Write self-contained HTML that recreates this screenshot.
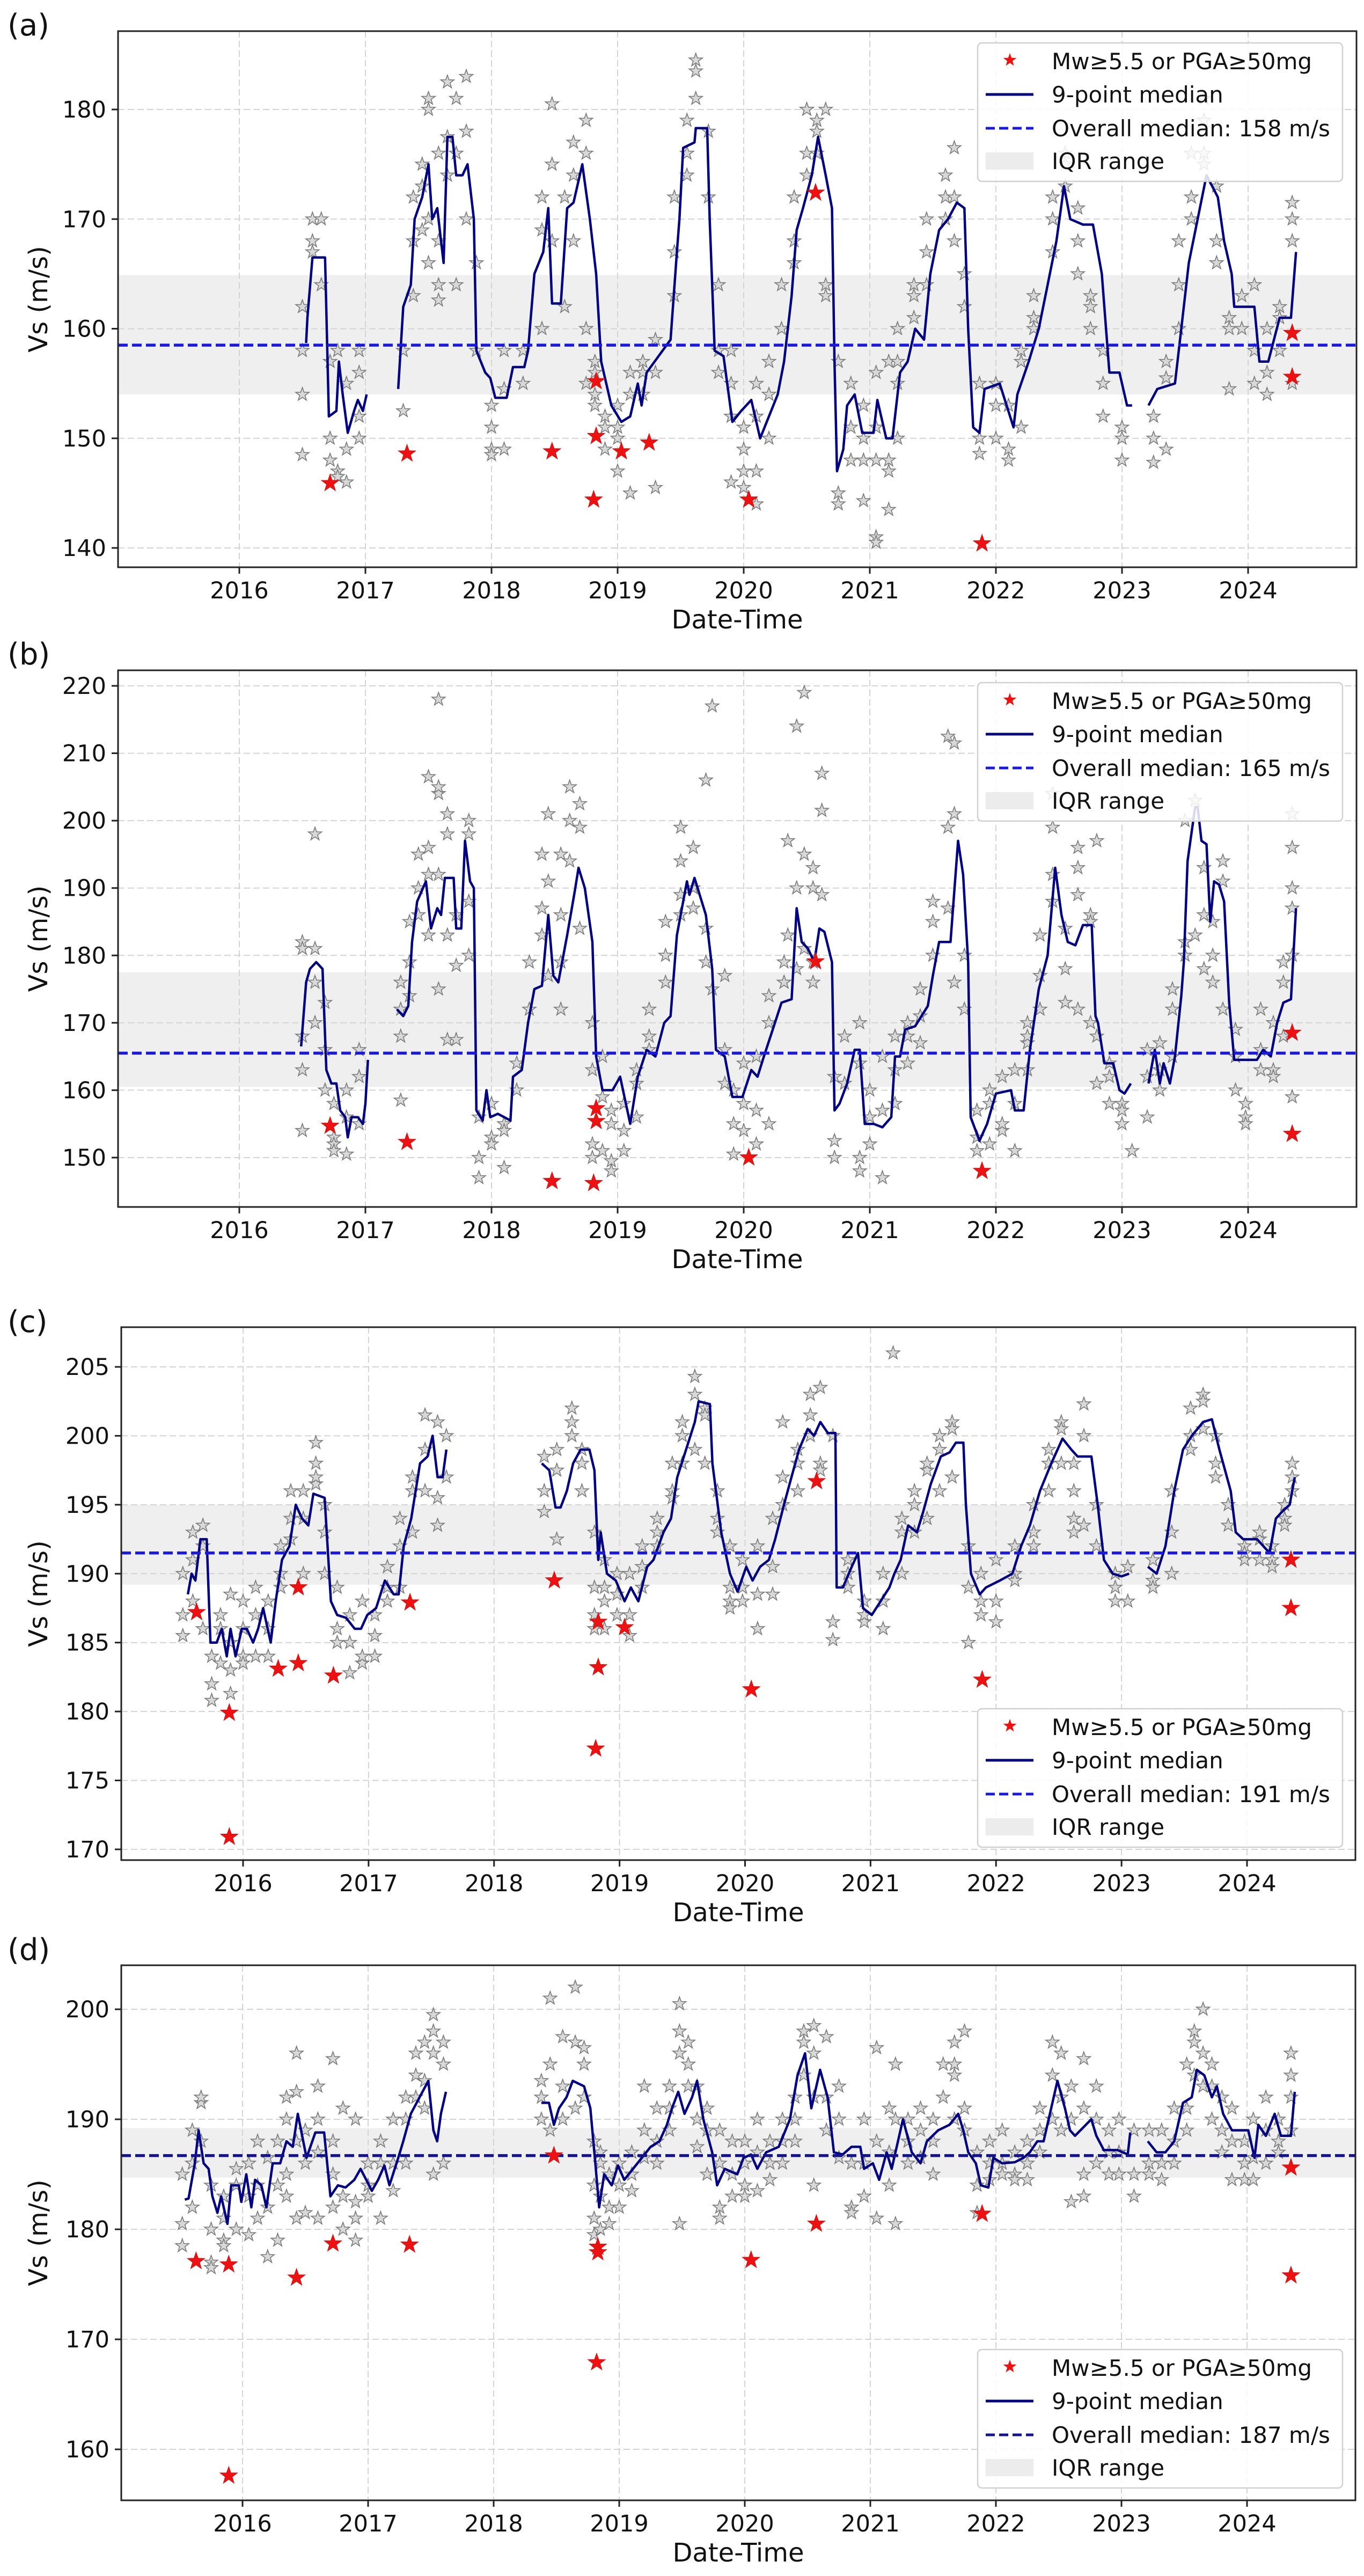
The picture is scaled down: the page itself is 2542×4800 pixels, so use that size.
<!DOCTYPE html>
<html><head><meta charset="utf-8">
<style>
html,body{margin:0;padding:0;background:#fff;}
svg{display:block;font-family:"DejaVu Sans","Liberation Sans",sans-serif;}
</style></head>
<body>
<svg id="fig" width="2542" height="4800" viewBox="0 0 2542 4800" xmlns="http://www.w3.org/2000/svg"></svg>
<script>
// ---------- shared data ----------
const xTickYears = [2016,2017,2018,2019,2020,2021,2022,2023,2024];
const xDomain = [2015.04, 2024.86];

// ---------- panel (a) ----------
const aYTicks = [140,150,160,170,180];
const aOverallMedian = 158.5;
const aIQR = [154.0, 164.9];
const aEventYears = [2016.72,2017.33,2018.48,2018.83,2018.81,2018.83,2019.03,2019.25,2020.04,2020.57,2021.89,2024.35,2024.35];
const aEventVals  = [145.9,148.6,148.8,150.2,144.4,155.2,148.8,149.6,144.4,172.4,140.4,159.6,155.6];
const aMedian = [[2016.53,158.7],[2016.54,161],[2016.58,166.5],[2016.68,166.5],[2016.71,152],[2016.77,152.5],[2016.79,157],[2016.82,154],[2016.86,150.5],[2016.91,152.5],[2016.94,153.5],[2016.98,152.5],[2017.01,154],null,
[2017.26,154.5],[2017.30,162],[2017.36,164],[2017.39,170],[2017.45,172],[2017.50,175],[2017.53,170],[2017.57,171],[2017.59,169],[2017.62,166],[2017.65,177.5],[2017.69,177.5],[2017.72,174],[2017.77,174],[2017.81,175],[2017.86,170],[2017.88,158],[2017.95,156],[2017.99,155.5],[2018.03,153.7],[2018.12,153.7],[2018.17,156.5],[2018.26,156.5],[2018.29,158],[2018.34,165],[2018.41,167],[2018.45,171],[2018.48,162.3],[2018.55,162.3],[2018.60,171],[2018.65,171.5],[2018.72,175],[2018.78,170],[2018.83,165],[2018.87,157],[2018.95,153],[2019.03,151.5],[2019.10,152],[2019.16,155],[2019.19,153],[2019.23,156],[2019.42,159],[2019.47,167],[2019.49,170],[2019.52,176.5],[2019.61,177],[2019.62,178.3],[2019.71,178.3],[2019.73,170],[2019.77,158],[2019.84,157.5],[2019.91,151.5],[2019.98,152.5],[2020.06,153.5],[2020.13,150],[2020.20,152],[2020.27,154],[2020.32,157],[2020.38,163],[2020.42,169],[2020.47,171],[2020.54,174],[2020.59,177.5],[2020.65,174],[2020.70,171],[2020.72,157],[2020.74,147],[2020.79,149],[2020.82,153],[2020.88,154],[2020.94,150.5],[2021.03,150.5],[2021.06,153.5],[2021.13,150],[2021.18,150],[2021.24,156],[2021.30,157],[2021.36,160],[2021.43,159],[2021.48,165],[2021.55,169],[2021.62,170],[2021.69,171.5],[2021.75,171],[2021.78,160],[2021.82,151],[2021.87,150.5],[2021.91,154.5],[2022.03,155],[2022.14,151],[2022.17,154],[2022.26,157],[2022.34,160],[2022.41,164],[2022.48,168],[2022.54,173],[2022.59,170],[2022.69,169.5],[2022.77,169.5],[2022.84,165],[2022.90,156],[2022.98,156],[2023.04,153],[2023.08,153],null,
[2023.21,153],[2023.28,154.5],[2023.42,155],[2023.47,160],[2023.53,166],[2023.60,170],[2023.67,174],[2023.76,172],[2023.81,168],[2023.87,165],[2023.89,162],[2024.05,162],[2024.09,157],[2024.16,157],[2024.25,161],[2024.34,161],[2024.38,167]];
const aScatter = [[2016.5,[162,158,154,148.5]],[2016.58,[168,170,167]],[2016.65,[170,164]],[2016.72,[157,150,148]],[2016.78,[147,146.5,158]],[2016.85,[146,149,155]],[2016.95,[158,156,150,152]],[2017.3,[152.5,158]],[2017.38,[163,168,172]],[2017.45,[175,173,169]],[2017.5,[180,181,170,166]],[2017.58,[176,168,164,162.6]],[2017.65,[177.5,182.5,174]],[2017.72,[181,176,164]],[2017.8,[183,178,170]],[2017.88,[166,158]],[2018.0,[151,153,149,148.5]],[2018.1,[154.5,158,149]],[2018.25,[155,158]],[2018.4,[172,169,160]],[2018.48,[180.5,175,168]],[2018.58,[172,162]],[2018.65,[177,174,168]],[2018.75,[179,176,160,155]],[2018.82,[157,153,156,154]],[2018.9,[152,149,151]],[2019.0,[153,151,150,147]],[2019.1,[156,154,145]],[2019.2,[157,156,154]],[2019.3,[159,156,145.5]],[2019.45,[163,167,172]],[2019.55,[176,179,174]],[2019.62,[181,183.5,184.5]],[2019.72,[178,172]],[2019.8,[158,156,164]],[2019.9,[152,155,158,146]],[2020.0,[151,149,147,145.5]],[2020.1,[155,152,147,144]],[2020.2,[157,150,154]],[2020.3,[160,164]],[2020.4,[166,172,168]],[2020.5,[174,176,180,180]],[2020.58,[179,178,176]],[2020.65,[164,163,180]],[2020.75,[157,145,144]],[2020.85,[155,151,148]],[2020.95,[153,150,148,144.3]],[2021.05,[151,148,156,141,140.5]],[2021.15,[157,147,148,143.5]],[2021.22,[160,157,155,150]],[2021.35,[161,163,164]],[2021.45,[167,164,170]],[2021.6,[172,170,174]],[2021.67,[176.5,172,168]],[2021.75,[165,162]],[2021.87,[155,148.6,150]],[2022.0,[153,150,155]],[2022.1,[149,153,148]],[2022.2,[157,151,158]],[2022.3,[161,163,160]],[2022.45,[167,170,172]],[2022.55,[176,175,173]],[2022.65,[171,168,165]],[2022.75,[162,163,160]],[2022.85,[158,155,152]],[2023.0,[151,148,150]],[2023.25,[150,152,147.8]],[2023.35,[149,155.5,157]],[2023.45,[160,164,168]],[2023.55,[172,170,176]],[2023.65,[181,179,175,176]],[2023.75,[173,168,166]],[2023.85,[161,160,154.5]],[2023.95,[163,160]],[2024.05,[164,158,155]],[2024.15,[160,156,154]],[2024.25,[158,161,162]],[2024.35,[170,171.5,168,155]]];

// ---------- panel (b) ----------
const bYTicks = [150,160,170,180,190,200,210,220];
const bOverallMedian = 165.5;
const bIQR = [160.5, 177.5];
const bEventYears = [2016.72,2017.33,2018.48,2018.81,2018.83,2018.83,2020.04,2020.57,2021.89,2024.35,2024.35];
const bEventVals  = [154.7,152.3,146.5,146.2,157.3,155.4,150,179.1,148,168.5,153.5];
const bMedian = [[2016.49,166.5],[2016.53,176],[2016.56,178],[2016.61,179],[2016.66,178],[2016.69,163],[2016.73,161],[2016.77,161],[2016.80,157],[2016.84,156],[2016.86,153],[2016.89,156],[2016.94,156],[2016.98,155],[2017.00,158],[2017.02,164.5],null,
[2017.25,172],[2017.30,171],[2017.34,172.5],[2017.37,182],[2017.41,188],[2017.48,191],[2017.52,184],[2017.57,187],[2017.60,186],[2017.63,191.5],[2017.70,191.5],[2017.72,184],[2017.76,184],[2017.79,197],[2017.83,191],[2017.86,190],[2017.88,157],[2017.93,155.5],[2017.96,160],[2017.99,156],[2018.05,156.5],[2018.15,155.5],[2018.17,162],[2018.24,163],[2018.29,170],[2018.34,175],[2018.40,175.5],[2018.45,186],[2018.49,177],[2018.53,176],[2018.60,183],[2018.66,189.5],[2018.69,193],[2018.74,190],[2018.80,182],[2018.83,165],[2018.88,160],[2018.96,160],[2019.02,162],[2019.10,155],[2019.16,162],[2019.23,166],[2019.30,165],[2019.37,170],[2019.42,171],[2019.47,183],[2019.50,186],[2019.55,191],[2019.57,189],[2019.61,191.5],[2019.70,186],[2019.75,178],[2019.78,166],[2019.85,165],[2019.91,159],[2019.99,159],[2020.06,163],[2020.11,162],[2020.16,165],[2020.23,169],[2020.30,173],[2020.38,173.5],[2020.42,187],[2020.46,182],[2020.51,181],[2020.56,179],[2020.60,184],[2020.64,183.5],[2020.70,179],[2020.72,157],[2020.76,158],[2020.82,161],[2020.88,166],[2020.92,166],[2020.96,155],[2021.03,155],[2021.10,154.5],[2021.17,156],[2021.20,165],[2021.24,165],[2021.28,169],[2021.36,169.5],[2021.46,172.5],[2021.50,177],[2021.55,182],[2021.64,182],[2021.70,197],[2021.74,192],[2021.78,179],[2021.80,156],[2021.87,152.5],[2021.93,155],[2022.00,159.5],[2022.12,160],[2022.15,157],[2022.22,157],[2022.27,166],[2022.34,175],[2022.41,180],[2022.47,193],[2022.52,186],[2022.57,182],[2022.63,181.5],[2022.69,184.5],[2022.76,184.5],[2022.79,171],[2022.81,170],[2022.86,164],[2022.93,164],[2022.98,160],[2023.02,159.5],[2023.07,161],null,
[2023.21,161],[2023.26,166],[2023.30,161],[2023.33,164],[2023.38,161],[2023.42,165],[2023.47,174],[2023.49,179],[2023.52,194],[2023.58,202],[2023.60,202],[2023.63,197],[2023.67,196.5],[2023.70,185],[2023.73,191],[2023.77,190.5],[2023.81,188],[2023.85,173],[2023.89,164.5],[2024.07,164.5],[2024.12,166],[2024.18,165],[2024.23,170],[2024.28,173],[2024.34,173.5],[2024.38,187]];
const bScatter = [[2016.5,[182,181,168,154,163]],[2016.6,[181,176,170,198]],[2016.68,[173,166,160]],[2016.75,[158,153,152,151]],[2016.85,[150.5,156,160]],[2016.95,[162,166,155]],[2017.28,[176,172,168,158.5]],[2017.35,[185,179,174]],[2017.42,[195,190,186]],[2017.5,[196,192,206.5,183]],[2017.58,[204,205,218,192,175]],[2017.65,[198,201,183,167.5]],[2017.72,[178.5,167.5,186]],[2017.82,[200,198,188,180]],[2017.9,[156,150,147]],[2018.0,[158,153,152]],[2018.1,[148.5,155,154]],[2018.2,[164,160]],[2018.3,[179,172]],[2018.4,[183,195,187]],[2018.45,[201,191,177]],[2018.55,[195,186,179,172]],[2018.62,[205,194,200]],[2018.7,[202.5,199,184]],[2018.8,[170,163,150,152]],[2018.88,[165,159,151]],[2018.95,[157,155,149.5,148]],[2019.05,[158,154,151]],[2019.15,[163,161,156]],[2019.25,[168,172,166]],[2019.38,[176,185,180]],[2019.5,[194,189,199,186]],[2019.6,[196,190,187]],[2019.7,[206,184,179]],[2019.75,[217,175]],[2019.85,[177,166,161]],[2019.92,[155,150.5,160]],[2020.0,[164,158,154]],[2020.1,[157,152,165]],[2020.2,[170,174,155]],[2020.32,[176,179,176]],[2020.35,[197,183]],[2020.42,[214,190,178]],[2020.48,[219,195,181]],[2020.55,[193,190,179,176]],[2020.62,[189,201.5,207]],[2020.72,[152.5,150,162]],[2020.8,[161,168]],[2020.92,[170,164,148,150]],[2021.0,[160,156,152]],[2021.1,[165,157,147]],[2021.2,[168,163,158]],[2021.3,[170,168,164]],[2021.4,[175,171,167]],[2021.5,[185,188,180]],[2021.62,[199,212.5,187]],[2021.67,[211.5,201,176]],[2021.75,[180,172]],[2021.85,[157,153,151]],[2021.95,[158,152,160]],[2022.05,[162,154,155]],[2022.15,[163,158,151]],[2022.25,[170,167,168,163]],[2022.35,[183,177,172]],[2022.45,[188,192,204,199]],[2022.55,[184,178,173]],[2022.65,[189,193,196,172]],[2022.75,[186,185,170]],[2022.8,[197,168,161]],[2022.9,[158,164,162]],[2023.0,[158,155,157]],[2023.08,[151]],[2023.2,[162,156,166]],[2023.3,[167,163,160]],[2023.4,[175,172,165]],[2023.5,[182,180,200]],[2023.58,[207,203,183]],[2023.65,[193,186,178]],[2023.72,[180,176,185]],[2023.8,[194,191,172]],[2023.9,[169,165,160]],[2023.98,[158,156,155]],[2024.1,[172,166,163]],[2024.2,[163,170,162]],[2024.28,[179,176,168]],[2024.35,[201,196,190,187,180,159]]];

// ---------- panel (c) ----------
const cYTicks = [170,175,180,185,190,195,200,205];
const cOverallMedian = 191.5;
const cIQR = [189.2, 195.0];
const cEventYears = [2015.63,2015.89,2015.89,2016.28,2016.44,2016.44,2016.72,2017.33,2018.48,2018.83,2018.83,2018.81,2019.04,2020.05,2020.57,2021.89,2024.35,2024.35];
const cEventVals  = [187.2,179.9,170.9,183.1,183.5,189,182.6,187.9,189.5,186.5,183.2,177.3,186.1,181.6,196.7,182.3,191,187.5];
const cMedian = [[2015.56,188.5],[2015.59,190],[2015.62,189.5],[2015.66,192.5],[2015.71,192.5],[2015.74,185],[2015.79,185],[2015.83,186],[2015.87,184],[2015.90,186],[2015.94,184],[2015.99,186],[2016.03,186],[2016.08,185],[2016.12,186],[2016.16,187.5],[2016.22,185],[2016.26,188],[2016.31,191],[2016.37,192],[2016.42,195],[2016.47,194],[2016.52,193.5],[2016.56,195.8],[2016.65,195.5],[2016.70,188],[2016.75,187],[2016.82,186.8],[2016.89,186],[2016.94,186],[2016.99,187],[2017.06,187.5],[2017.13,189.5],[2017.20,188.5],[2017.24,188.5],[2017.28,192],[2017.34,194],[2017.41,198],[2017.47,198.5],[2017.51,200],[2017.55,197],[2017.59,197],[2017.62,199],null,
[2018.38,198],[2018.44,197.5],[2018.49,194.8],[2018.53,194.8],[2018.58,196],[2018.63,198],[2018.69,199],[2018.76,199],[2018.80,197.5],[2018.83,191],[2018.85,193],[2018.90,190],[2018.97,189.5],[2019.04,188],[2019.09,189],[2019.15,188],[2019.22,190.5],[2019.27,191],[2019.35,193],[2019.41,194],[2019.46,197],[2019.53,199],[2019.60,201],[2019.63,202.5],[2019.72,202.3],[2019.74,198],[2019.81,193],[2019.88,190],[2019.94,188.7],[2020.01,190.5],[2020.06,189.5],[2020.12,190.5],[2020.19,191],[2020.24,192.5],[2020.31,195],[2020.37,197],[2020.43,199],[2020.50,200.5],[2020.55,200],[2020.60,201],[2020.66,200.2],[2020.72,200.2],[2020.73,189],[2020.78,189],[2020.85,190.5],[2020.90,191.5],[2020.94,187.5],[2021.01,187],[2021.08,188],[2021.15,189],[2021.19,190],[2021.24,191],[2021.30,193.5],[2021.37,193],[2021.42,194.5],[2021.48,196.5],[2021.56,198.5],[2021.63,198.8],[2021.68,199.5],[2021.74,199.5],[2021.76,195],[2021.80,190],[2021.87,188.5],[2021.92,189],[2022.03,189.5],[2022.13,190],[2022.20,192],[2022.27,193.5],[2022.35,196],[2022.44,198],[2022.53,199.8],[2022.60,199],[2022.65,198.5],[2022.76,198.5],[2022.81,195],[2022.86,191],[2022.93,190],[2023.00,189.8],[2023.06,190],null,
[2023.21,190.5],[2023.28,190],[2023.35,192],[2023.42,196],[2023.49,199],[2023.56,200],[2023.65,201],[2023.72,201.2],[2023.78,199],[2023.87,196],[2023.91,193],[2023.97,192.5],[2024.08,192.5],[2024.18,191.5],[2024.23,194],[2024.28,194.5],[2024.34,195],[2024.38,197]];
const cScatter = [[2015.52,[185.5,187,190]],[2015.6,[191,193,188]],[2015.68,[193.5,192,186]],[2015.75,[182,180.8,184]],[2015.82,[187,186,183.5]],[2015.9,[181.3,183,185,188.5]],[2016.0,[186,188,184,183.5]],[2016.1,[187,189,184]],[2016.2,[188,186,184]],[2016.3,[190,192,189]],[2016.38,[194,196,192.5]],[2016.48,[196,194,190]],[2016.58,[199.5,198,196.5,197]],[2016.65,[195,193,190]],[2016.75,[189,186,185]],[2016.85,[187,185,182.8]],[2016.95,[188,183.5,184]],[2017.05,[185.5,184,187]],[2017.15,[189,190.5,188]],[2017.25,[192,189,194]],[2017.35,[196,197,193]],[2017.45,[199,201.5,196]],[2017.55,[201,195.5,193.5]],[2017.62,[200,197]],[2018.4,[194.5,196,198.5]],[2018.5,[199,197.5,192.5]],[2018.62,[200,201,202]],[2018.7,[199,198,196]],[2018.8,[193,189,187,186]],[2018.88,[191,189,186,188]],[2018.98,[190,187,188.5]],[2019.08,[185.5,187,190]],[2019.18,[192,190.5,189]],[2019.3,[194,192,193]],[2019.42,[196,198,195.5]],[2019.5,[200,201,198]],[2019.6,[203,204.3,199]],[2019.68,[202,201.5,198]],[2019.78,[196,193,194]],[2019.88,[192,189,188,187.5]],[2019.98,[191,189,188]],[2020.1,[192,186,188.5]],[2020.22,[194,190.5,188.5]],[2020.3,[197,195,201]],[2020.42,[199,198,196]],[2020.52,[201.5,203,200]],[2020.6,[203.5,198,197.5]],[2020.7,[200,185.2,186.5]],[2020.82,[191,190,189]],[2020.95,[188,186.5,187]],[2021.1,[190,188,186]],[2021.18,[206]],[2021.25,[194,193,190]],[2021.35,[196,195,193]],[2021.45,[197.5,198,194]],[2021.55,[200,199,196]],[2021.65,[201,200.5,197]],[2021.78,[192,189,185]],[2021.88,[188,187,190]],[2022.0,[191,188,186.5]],[2022.15,[192,190,189.5]],[2022.3,[195,193,192]],[2022.42,[198,199,196]],[2022.52,[201,200.5,198]],[2022.62,[198,196,194,193]],[2022.7,[202.3,200,193.5]],[2022.8,[195,192]],[2022.95,[190,189,188]],[2023.05,[188,190.5]],[2023.25,[191,189.5,189]],[2023.4,[196,193,190]],[2023.55,[200,202,199]],[2023.65,[203,202.5,200.5]],[2023.75,[200,198,197]],[2023.85,[195,193.5]],[2023.98,[192,191,191.5]],[2024.1,[192.5,193,191]],[2024.2,[191,190.5,192]],[2024.3,[195,194,193.5]],[2024.36,[198,197,196]]];

// ---------- panel (d) ----------
const dYTicks = [160,170,180,190,200];
const dOverallMedian = 186.7;
const dIQR = [184.7, 189.2];
const dEventYears = [2015.63,2015.89,2015.89,2016.43,2016.72,2017.33,2018.48,2018.83,2018.83,2018.82,2020.05,2020.57,2021.89,2024.35,2024.35];
const dEventVals  = [177.1,176.8,157.6,175.6,178.7,178.6,186.7,178.4,177.9,167.9,177.2,180.5,181.4,185.6,175.8];
const dMedian = [[2015.54,182.7],[2015.57,182.8],[2015.62,186],[2015.65,189],[2015.69,186],[2015.73,185.5],[2015.76,183],[2015.80,181.5],[2015.83,183],[2015.85,182],[2015.88,180.5],[2015.91,184],[2015.97,184],[2015.99,182.5],[2016.03,185],[2016.07,182],[2016.10,184.5],[2016.15,184],[2016.19,182],[2016.24,186],[2016.30,186],[2016.35,188],[2016.40,187.5],[2016.44,190.5],[2016.51,186.5],[2016.58,188.8],[2016.65,188.8],[2016.70,183],[2016.76,184],[2016.82,183.8],[2016.89,184.5],[2016.94,185.5],[2017.03,183.5],[2017.08,184.5],[2017.13,185.8],[2017.17,184],[2017.24,186.5],[2017.28,188],[2017.34,190.5],[2017.41,192],[2017.48,193.5],[2017.52,189],[2017.55,188],[2017.58,190.5],[2017.62,192.5],null,
[2018.38,191.5],[2018.44,191.5],[2018.48,189.5],[2018.52,191],[2018.58,192],[2018.63,193.5],[2018.72,193],[2018.77,191],[2018.81,186],[2018.84,182],[2018.88,185],[2018.94,184],[2018.99,185.8],[2019.04,184.5],[2019.11,185.5],[2019.18,186.5],[2019.25,187.5],[2019.32,188],[2019.38,189.5],[2019.42,191],[2019.47,192.5],[2019.52,190.5],[2019.58,192],[2019.62,193.5],[2019.67,190],[2019.74,187],[2019.78,184],[2019.84,185.5],[2019.94,185],[2019.99,186.5],[2020.05,186.8],[2020.10,185.5],[2020.17,187],[2020.27,187.5],[2020.36,190],[2020.42,194],[2020.48,196],[2020.53,191],[2020.60,194.5],[2020.66,192],[2020.71,187],[2020.78,186.8],[2020.85,187.5],[2020.92,187.5],[2020.95,185.5],[2021.02,186],[2021.07,184.5],[2021.13,187],[2021.17,185.5],[2021.26,190],[2021.33,187],[2021.40,186],[2021.45,188],[2021.54,189],[2021.63,189.5],[2021.70,190.5],[2021.74,189],[2021.78,187],[2021.84,186],[2021.88,184],[2021.94,183.8],[2021.98,186.5],[2022.05,186],[2022.15,186.1],[2022.22,186.5],[2022.27,187],[2022.33,188],[2022.38,188],[2022.41,189.5],[2022.44,191],[2022.49,193.5],[2022.55,191],[2022.59,189],[2022.63,188.5],[2022.76,190],[2022.80,188.5],[2022.86,187.2],[2022.97,187.2],[2023.05,186.8],[2023.07,188.8],null,
[2023.21,188],[2023.28,187],[2023.35,187],[2023.42,188],[2023.49,191.5],[2023.56,192],[2023.60,194.5],[2023.66,194],[2023.72,192],[2023.76,193],[2023.81,190.5],[2023.88,189],[2024.01,189],[2024.06,186.5],[2024.09,189.5],[2024.15,188.5],[2024.22,190.5],[2024.27,188.5],[2024.35,188.5],[2024.38,192.5]];
const dScatter = [[2015.52,[180.5,178.5,185]],[2015.6,[186,189,182]],[2015.67,[191.5,192,188]],[2015.75,[180,177,176.5,184]],[2015.85,[179,181,183,178.5]],[2015.95,[184,185.5,180]],[2016.05,[186,183,179.5]],[2016.12,[188,181,184]],[2016.2,[186.5,182,177.5]],[2016.28,[188,184,179]],[2016.35,[190,192,185,183]],[2016.43,[196,192.5,188,181]],[2016.5,[189,186,181.5]],[2016.6,[193,190,187,181]],[2016.72,[195.5,188,185,182]],[2016.8,[191,180,183]],[2016.9,[190,182.5,181,179]],[2017.0,[186,184,183]],[2017.1,[186,181,188]],[2017.2,[190,186,183.5]],[2017.3,[192,190,186]],[2017.38,[194,192,196]],[2017.45,[197,193.5,191]],[2017.52,[199.5,198,196,185]],[2017.6,[197,195,186]],[2018.38,[192,190,193.5]],[2018.45,[201,195,189]],[2018.55,[197.5,193,190]],[2018.65,[202,197,191]],[2018.72,[196.5,195,192]],[2018.8,[188,184,181,179.5]],[2018.85,[186,183,180,187]],[2018.92,[185,182,180.5]],[2019.0,[186,184,182]],[2019.1,[187,185,183.5]],[2019.2,[193,189,186.5]],[2019.3,[191,188,186]],[2019.4,[193,191,189]],[2019.48,[196,198,200.5,180.5]],[2019.55,[197,195,193]],[2019.62,[193,190,187.5]],[2019.7,[191,189,185]],[2019.8,[189,186,181,182]],[2019.9,[188,185,183]],[2020.0,[188,186,184,183]],[2020.1,[190,187,183.5]],[2020.2,[188,186,184.5]],[2020.3,[190,188,186]],[2020.4,[192,190,188]],[2020.47,[197,198,194]],[2020.55,[198.5,196,192,184]],[2020.65,[197.5,192,189]],[2020.75,[193,190,186.5]],[2020.85,[186,182,181.5]],[2020.95,[190,186,183]],[2021.05,[196.5,188,181]],[2021.15,[191,187,184]],[2021.2,[195,190,180.5]],[2021.3,[190,188,186]],[2021.4,[191,189,186.5]],[2021.5,[190,188,185]],[2021.58,[195,192]],[2021.67,[197,194,195,190]],[2021.75,[198,191,189]],[2021.85,[187,184,181.5]],[2021.95,[188,186,184.5]],[2022.05,[189,186,185]],[2022.15,[187,185,184.5]],[2022.25,[188,186,184.5]],[2022.35,[191,189,187]],[2022.45,[197,194,190]],[2022.52,[196,192,189]],[2022.6,[193,190,182.5]],[2022.7,[195.5,191,183,185]],[2022.8,[193,190,186]],[2022.9,[189,187,185]],[2022.98,[190,187,185]],[2023.1,[189,185,183]],[2023.22,[189,186,185]],[2023.32,[189,186,184.5]],[2023.42,[191,188,186]],[2023.52,[195,191,189]],[2023.58,[198,197,194]],[2023.65,[200,196,193]],[2023.72,[195,193,190]],[2023.8,[192,189,187]],[2023.88,[191,188,184.5]],[2023.98,[188,186,184.5]],[2024.05,[190,186.5,184.5]],[2024.15,[192,189,186]],[2024.25,[190,188,187]],[2024.35,[196,194,192,189]]];

// ---------- rendering ----------
const NS = "http://www.w3.org/2000/svg";
const fig = document.getElementById('fig');
function el(tag, attrs, parent){
  const e = document.createElementNS(NS, tag);
  for (const k in attrs) e.setAttribute(k, attrs[k]);
  (parent||fig).appendChild(e);
  return e;
}
function starPath(cx, cy, r){
  let d = '';
  for (let i=0;i<10;i++){
    const rr = i%2===0 ? r : r*0.4;
    const a = -Math.PI/2 + i*Math.PI/5;
    d += (i===0?'M':'L') + (cx+rr*Math.cos(a)).toFixed(1) + ',' + (cy+rr*Math.sin(a)).toFixed(1);
  }
  return d+'Z';
}

const panels = [
  {id:'a', label:'(a)', lx:14, ly:66, left:220, right:2528, top:58, bottom:1057, x2016:446, x2024:2326, yA:180, pA:204, yB:140, pB:1021,
   ticks:aYTicks, med:aMedian, sc:aScatter, ey:aEventYears, ev:aEventVals, om:aOverallMedian, iqr:aIQR, omColor:'#1a1adf', legendTop:80, medLabel:'Overall median: 158 m/s'},
  {id:'b', label:'(b)', lx:14, ly:1238, left:220, right:2528, top:1249, bottom:2249, x2016:446, x2024:2326, yA:220, pA:1278, yB:150, pB:2157,
   ticks:bYTicks, med:bMedian, sc:bScatter, ey:bEventYears, ev:bEventVals, om:bOverallMedian, iqr:bIQR, omColor:'#1a1adf', legendTop:1272, medLabel:'Overall median: 165 m/s'},
  {id:'c', label:'(c)', lx:14, ly:2482, left:226, right:2526, top:2473, bottom:3466, x2016:453, x2024:2324, yA:205, pA:2547, yB:170, pB:3446,
   ticks:cYTicks, med:cMedian, sc:cScatter, ey:cEventYears, ev:cEventVals, om:cOverallMedian, iqr:cIQR, omColor:'#1a1adf', legendTop:3184, medLabel:'Overall median: 191 m/s'},
  {id:'d', label:'(d)', lx:14, ly:3652, left:226, right:2526, top:3662, bottom:4659, x2016:452, x2024:2324, yA:200, pA:3744, yB:160, pB:4564,
   ticks:dYTicks, med:dMedian, sc:dScatter, ey:dEventYears, ev:dEventVals, om:dOverallMedian, iqr:dIQR, omColor:'#14148a', legendTop:4378, medLabel:'Overall median: 187 m/s'}
];

panels.forEach(P => {
  const g = el('g', {});
  
  
  const xs = v => P.x2016 + (v-2016)*(P.x2024-P.x2016)/8;
  const ys = v => P.pA + (v-P.yA)*(P.pB-P.pA)/(P.yB-P.yA);
  const clipId = 'clip-' + P.id;
  const cp = el('clipPath', {id:clipId}, g);
  el('rect', {x:P.left, y:P.top, width:P.right-P.left, height:P.bottom-P.top}, cp);

  const lab = el('text', {x:P.lx, y:P.ly, 'font-size':56, fill:'#111'}, g);
  lab.textContent = P.label;
  
  

  const plot = el('g', {'clip-path':'url(#'+clipId+')'}, g);
  // IQR band
  const band = el('rect', {x:P.left, y:ys(P.iqr[1]), width:P.right-P.left, height:ys(P.iqr[0])-ys(P.iqr[1]), fill:'#efefef'}, plot);
  
  
  // grid
  xTickYears.forEach(yr => {
    el('line', {x1:xs(yr), x2:xs(yr), y1:P.top, y2:P.bottom, stroke:'#d4d4d4', 'stroke-width':2, 'stroke-dasharray':'12,6'}, plot);
  });
  P.ticks.forEach(t => {
    el('line', {x1:P.left, x2:P.right, y1:ys(t), y2:ys(t), stroke:'#d4d4d4', 'stroke-width':2, 'stroke-dasharray':'12,6'}, plot);
  });
  // scatter
  const sg = el('g', {}, plot);
  
  
  P.sc.forEach(grp => {
    grp[1].forEach(v => {
      const s = el('path', {d:starPath(xs(grp[0]), ys(v), 13), fill:'#d8d8d8', stroke:'#7a7a7a', 'stroke-width':1.6}, sg);
      
      
    });
  });
  // median line
  let d = '', pen = false;
  P.med.forEach(pt => {
    if (!pt){ pen = false; return; }
    d += (pen ? 'L' : 'M') + xs(pt[0]).toFixed(1) + ',' + ys(pt[1]).toFixed(1);
    pen = true;
  });
  const ml = el('path', {d:d, fill:'none', stroke:'#000080', 'stroke-width':4.5, 'stroke-linejoin':'round'}, plot);
  
  
  // overall median
  const om = el('line', {x1:P.left, x2:P.right, y1:ys(P.om), y2:ys(P.om), stroke:P.omColor, 'stroke-width':5.5, 'stroke-dasharray':'18,8'}, plot);
  
  
  // events
  const eg = el('g', {}, plot);
  
  
  P.ey.forEach((yr, i) => {
    const s = el('path', {d:starPath(xs(yr), ys(P.ev[i]), 17), fill:'#ee1111', stroke:'#cc1111', 'stroke-width':1}, eg);
    
    
  });

  // frame
  const fr = el('rect', {x:P.left, y:P.top, width:P.right-P.left, height:P.bottom-P.top, fill:'none', stroke:'#222', 'stroke-width':3}, g);
  
  

  // x ticks
  xTickYears.forEach(yr => {
    el('line', {x1:xs(yr), x2:xs(yr), y1:P.bottom, y2:P.bottom+12, stroke:'#222', 'stroke-width':3}, g);
    const t = el('text', {x:xs(yr), y:P.bottom+58, 'font-size':43, 'text-anchor':'middle', fill:'#111'}, g);
    t.textContent = yr;
    
    
  });
  P.ticks.forEach(v => {
    el('line', {x1:P.left-12, x2:P.left, y1:ys(v), y2:ys(v), stroke:'#222', 'stroke-width':3}, g);
    const t = el('text', {x:P.left-22, y:ys(v)+15, 'font-size':43, 'text-anchor':'end', fill:'#111'}, g);
    t.textContent = v;
    
    
  });
  const xt = el('text', {x:(P.left+P.right)/2, y:P.bottom+114, 'font-size':48, 'text-anchor':'middle', fill:'#111'}, g);
  xt.textContent = 'Date-Time';
  
  
  const cy = (P.top+P.bottom)/2;
  const yt = el('text', {x:88, y:cy, 'font-size':48, 'text-anchor':'middle', fill:'#111', transform:'rotate(-90 88 '+cy+')'}, g);
  yt.textContent = 'Vs (m/s)';
  
  

  // legend
  const L = el('g', {}, g);
  
  
  const lt = P.legendTop;
  el('rect', {x:1822, y:lt, width:680, height:258, rx:8, fill:'#fff', 'fill-opacity':0.85, stroke:'#d0d0d0', 'stroke-width':2.5}, L);
  const rows = [lt+34, lt+96, lt+159, lt+220];
  el('path', {d:starPath(1882, rows[0]-2, 13), fill:'#ee1111'}, L);
  el('line', {x1:1837, x2:1926, y1:rows[1], y2:rows[1], stroke:'#000080', 'stroke-width':5}, L);
  el('line', {x1:1837, x2:1926, y1:rows[2], y2:rows[2], stroke:P.omColor, 'stroke-width':5, 'stroke-dasharray':'17,8'}, L);
  el('rect', {x:1837, y:rows[3]-16, width:89, height:32, fill:'#ececec'}, L);
  const labels = ['Mw\u22655.5 or PGA\u226550mg', '9-point median', P.medLabel, 'IQR range'];
  labels.forEach((s, i) => {
    const t = el('text', {x:1960, y:rows[i]+15, 'font-size':42, fill:'#111'}, L);
    t.textContent = s;
    
    
  });
});
</script>
</body></html>
